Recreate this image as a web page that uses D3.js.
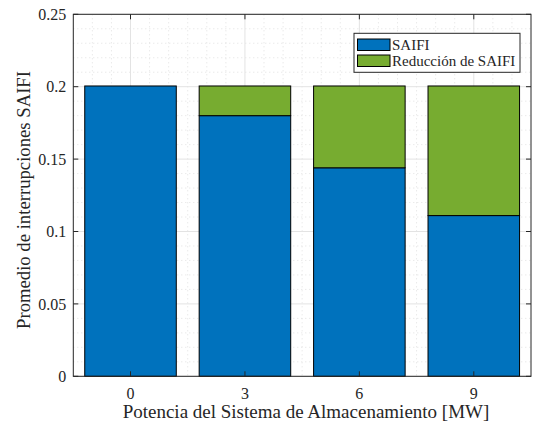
<!DOCTYPE html>
<html>
<head>
<meta charset="utf-8">
<script src="https://cdn.jsdelivr.net/npm/d3@7"></script>
<style>
  html, body { margin: 0; padding: 0; background: #fff; }
  svg text { font-family: "Liberation Serif", "Times New Roman", serif; fill: #262626; }
</style>
</head>
<body>
<svg id="chart" width="533" height="423"></svg>
<script>
// Storage power levels (MW) and SAIFI results
const potencias = [0, 3, 6, 9];
const saifi = [0.2005, 0.18, 0.144, 0.111];
const reduccion = [0, 0.0205, 0.0565, 0.0895];
const yTicks = [0, 0.05, 0.1, 0.15, 0.2, 0.25];
const yTickLabels = ["0", "0.05", "0.1", "0.15", "0.2", "0.25"];
const seriesNames = ["SAIFI", "Reducción de SAIFI"];
const colors = ["#0072BD", "#77AC30"];

const svg = d3.select("#chart");
const margin = { left: 73.3, right: 531, top: 14.3, bottom: 376.3 };

const x = d3.scaleLinear().domain([-1.5, 10.5]).range([margin.left, margin.right]);
const y = d3.scaleLinear().domain([0, 0.25]).range([margin.bottom, margin.top]);

// minor grid (dotted)
const g = svg.append("g");
const minorX = d3.range(-1.5, 10.51, 0.5).filter(v => v % 3 !== 0 && v > -1.5 && v < 10.5);
const minorY = d3.range(0, 0.2501, 0.01).filter(v => Math.abs(v / 0.05 - Math.round(v / 0.05)) > 1e-6);
g.selectAll(".mx").data(minorX).join("line")
  .attr("x1", d => x(d)).attr("x2", d => x(d))
  .attr("y1", margin.top).attr("y2", margin.bottom)
  .attr("stroke", "#d9d9d9").attr("stroke-width", 0.8).attr("stroke-dasharray", "1,3");
g.selectAll(".my").data(minorY).join("line")
  .attr("x1", margin.left).attr("x2", margin.right)
  .attr("y1", d => y(d)).attr("y2", d => y(d))
  .attr("stroke", "#d9d9d9").attr("stroke-width", 0.8).attr("stroke-dasharray", "1,3");
// major grid
g.selectAll(".Mx").data(potencias).join("line")
  .attr("x1", d => x(d)).attr("x2", d => x(d))
  .attr("y1", margin.top).attr("y2", margin.bottom)
  .attr("stroke", "#e3e3e3").attr("stroke-width", 1);
g.selectAll(".My").data(yTicks).join("line")
  .attr("x1", margin.left).attr("x2", margin.right)
  .attr("y1", d => y(d)).attr("y2", d => y(d))
  .attr("stroke", "#e3e3e3").attr("stroke-width", 1);

// stacked bars
const rows = potencias.map((p, i) => ({ p, saifi: saifi[i], reduccion: reduccion[i] }));
const stack = d3.stack().keys(["saifi", "reduccion"])(rows);
const bw = 2.4; // bar width in data units
svg.append("g").selectAll("g").data(stack).join("g")
  .attr("fill", (d, i) => colors[i])
  .selectAll("rect").data(d => d).join("rect")
  .attr("x", d => x(d.data.p - bw / 2))
  .attr("width", d => x(d.data.p + bw / 2) - x(d.data.p - bw / 2))
  .attr("y", d => y(d[1]))
  .attr("height", d => Math.max(0, y(d[0]) - y(d[1])))
  .attr("stroke", "#000").attr("stroke-width", 1);

// axes box with inward ticks
const ax = svg.append("g").attr("stroke", "#262626").attr("stroke-width", 1).attr("fill", "none");
ax.append("rect")
  .attr("x", margin.left).attr("y", margin.top)
  .attr("width", margin.right - margin.left).attr("height", margin.bottom - margin.top);
const tl = 5;
potencias.forEach(p => {
  ax.append("line").attr("x1", x(p)).attr("x2", x(p)).attr("y1", margin.bottom).attr("y2", margin.bottom - tl);
  ax.append("line").attr("x1", x(p)).attr("x2", x(p)).attr("y1", margin.top).attr("y2", margin.top + tl);
});
yTicks.forEach(v => {
  ax.append("line").attr("x1", margin.left).attr("x2", margin.left + tl).attr("y1", y(v)).attr("y2", y(v));
  ax.append("line").attr("x1", margin.right).attr("x2", margin.right - tl).attr("y1", y(v)).attr("y2", y(v));
});

// tick labels
svg.append("g").selectAll("text").data(yTicks).join("text")
  .attr("x", margin.left - 7).attr("y", d => y(d)).attr("dy", "0.35em")
  .attr("text-anchor", "end").attr("font-size", 16)
  .text((d, i) => yTickLabels[i]);
svg.append("g").selectAll("text").data(potencias).join("text")
  .attr("x", d => x(d)).attr("y", 399)
  .attr("text-anchor", "middle").attr("font-size", 16)
  .text(d => d);

// axis titles
svg.append("text")
  .attr("x", 306).attr("y", 418)
  .attr("text-anchor", "middle").attr("font-size", 19)
  .text("Potencia del Sistema de Almacenamiento [MW]");
svg.append("text")
  .attr("transform", `translate(30,200) rotate(-90)`)
  .attr("text-anchor", "middle").attr("font-size", 18.7)
  .text("Promedio de interrupciones SAIFI");

// legend
const lg = svg.append("g");
lg.append("rect").attr("x", 354).attr("y", 33.3).attr("width", 166).attr("height", 39)
  .attr("fill", "#fff").attr("stroke", "#262626").attr("stroke-width", 1);
seriesNames.forEach((name, i) => {
  const yy = 39 + i * 16;
  lg.append("rect").attr("x", 357.5).attr("y", yy).attr("width", 32.5).attr("height", 11.5)
    .attr("fill", colors[i]).attr("stroke", "#000").attr("stroke-width", 1);
  lg.append("text").attr("x", 392).attr("y", yy + 5.8).attr("dy", "0.35em")
    .attr("font-size", 15).text(name);
});
</script>
</body>
</html>
